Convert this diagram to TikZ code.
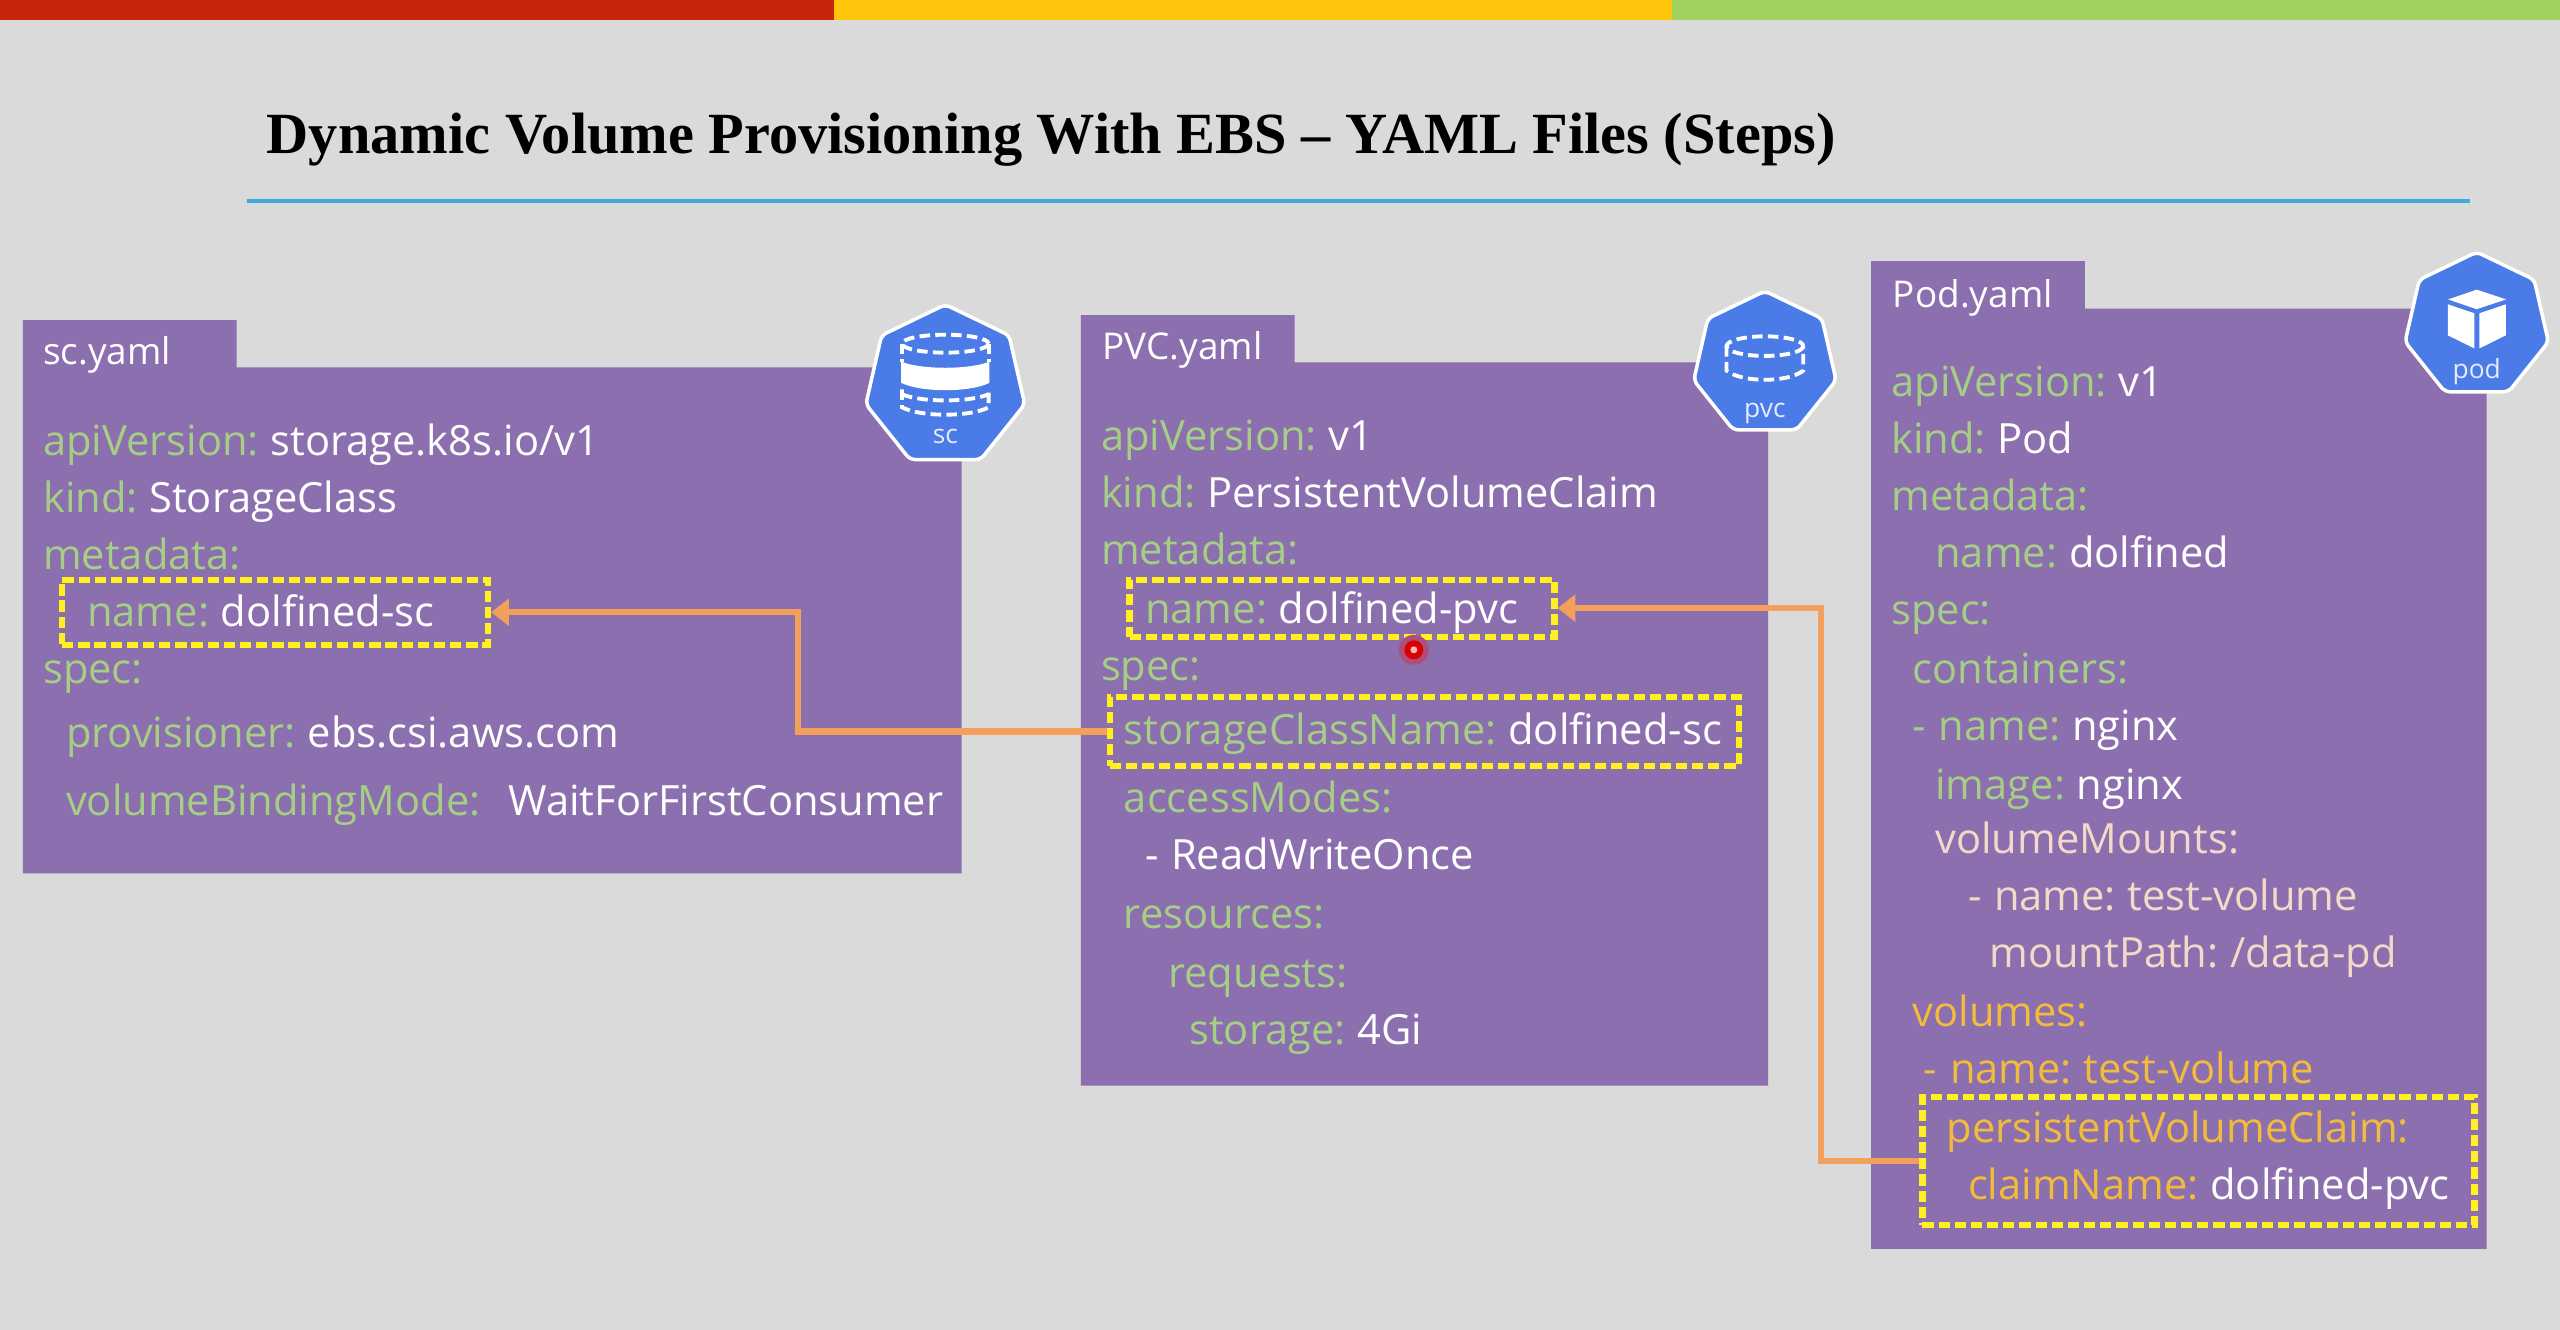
\documentclass[tikz,border=0pt]{standalone}
\usepackage{xcolor}
\usepackage{fontspec}
\setmainfont[WordSpace=0.75]{Open Sans}
\newfontfamily\titlefont{Liberation Serif}
\usetikzlibrary{
  arrows.meta,
  shapes.geometric,
  positioning,
  calc
}
\definecolor{bgGrey}{HTML}{DADADA}
\definecolor{panelPurple}{HTML}{8B6FAE}
\definecolor{keyGreen}{HTML}{A6CF85}
\definecolor{peachText}{HTML}{F5D9C8}
\definecolor{volOrange}{HTML}{F2BC3A}
\definecolor{boxYellow}{HTML}{FFF01E}
\definecolor{linkOrange}{HTML}{F2A05C}
\definecolor{iconBlue}{HTML}{4A7BE6}
\definecolor{ruleBlue}{HTML}{3FA9E0}
\newcommand{\yval}[1]{\textcolor{white}{#1}}
\newcommand{\ydash}{-\hspace{3.6pt}}
\tikzset{
  yaml/.style={anchor=base west, inner sep=0pt, yshift=-0.8pt, text=keyGreen, font=\fontsize{11.85}{14}\selectfont},
  tabname/.style={anchor=base west, inner sep=0pt, yshift=-0.5pt, text=white, font=\fontsize{10.5}{12}\selectfont},
  peach/.style={yaml, text=peachText},
  volume/.style={yaml, text=volOrange},
  markbox/.style={draw=boxYellow, line width=1.8pt, dash pattern=on 3.2pt off 1.4pt, inner sep=0pt},
  link/.style={draw=linkOrange, line width=1.8pt, -{Triangle[length=5pt,width=7.5pt]}},
  icon/.style={regular polygon, regular polygon sides=7, fill=iconBlue, draw=white, line width=1pt, rounded corners=1.5pt, inner sep=0pt},
  iconlabel/.style={inner sep=0pt, text=white!85!iconBlue, font=\fontsize{7.5}{8}\selectfont},
  dashline/.style={draw=white, line width=1.1pt, dash pattern=on 3pt off 1.5pt}
}
\begin{document}
\begin{tikzpicture}[x=0.16327mm, y=-0.16327mm]
  \useasboundingbox (0,0) rectangle (1568,814.6);
  \fill[bgGrey] (0,0) rectangle (1568,814.6);
  % Colour bars along the top
  \fill[fill={rgb,255:red,200;green,38;blue,12}] (0,0) rectangle (511,12);
  \fill[fill={rgb,255:red,255;green,197;blue,10}] (511,0) rectangle (1024,12);
  \fill[fill={rgb,255:red,163;green,209;blue,96}] (1024,0) rectangle (1568,12);
  % Title and rule
  \node[anchor=base west, inner sep=0pt, font=\titlefont\bfseries\fontsize{16.6}{20}\selectfont] (title) at (163,94) {Dynamic Volume Provisioning With EBS – YAML Files (Steps)};
  \draw[ruleBlue, line width=1.2pt] (151,123) -- (1513,123);
  % Panels, each with its tab
  \fill[panelPurple] (14,535) -- (14,196) -- (145,196) -- (145,225) -- (589,225) -- (589,535) -- cycle;
  \fill[panelPurple] (662,665) -- (662,193) -- (793,193) -- (793,222) -- (1083,222) -- (1083,665) -- cycle;
  \fill[panelPurple] (1146,765) -- (1146,160) -- (1277,160) -- (1277,189) -- (1523,189) -- (1523,765) -- cycle;

  % sc.yaml
  \node[tabname] (sctab) at (26,222) {sc.yaml};
  \node[yaml] (scapi) at (26,277) {apiVersion: \yval{storage.k8s.io/v1}};
  \node[yaml] (sckind) at (26,312) {kind: \yval{StorageClass}};
  \node[yaml] (scmeta) at (26,347) {metadata:};
  \node[yaml] (scnametext) at (53,382) {name: \yval{dolfined-sc}};
  \node[yaml] (scspec) at (26,417) {spec:};
  \node[yaml] (scprov) at (40,456) {provisioner: \yval{ebs.csi.aws.com}};
  \node[yaml] (scmode) at (40,498) {volumeBindingMode:};
  \node[yaml, text=white] (scmodeval) at (311,498) {WaitForFirstConsumer};

  % PVC.yaml
  \node[tabname] (pvctab) at (675,219) {PVC.yaml};
  \node[yaml] (pvcapi) at (674,274) {apiVersion: \yval{v1}};
  \node[yaml] (pvckind) at (674,309) {kind: \yval{PersistentVolumeClaim}};
  \node[yaml] (pvcmeta) at (674,344) {metadata:};
  \node[yaml] (pvcnametext) at (701,380) {name: \yval{dolfined-pvc}};
  \node[yaml] (pvcspec) at (674,415) {spec:};
  \node[yaml] (pvcclass) at (688,454) {storageClassName: \yval{dolfined-sc}};
  \node[yaml] (pvcmodes) at (688,496) {accessModes:};
  \node[yaml] (pvcrwo) at (701,531) {\yval{\ydash ReadWriteOnce}};
  \node[yaml] (pvcres) at (688,567) {resources:};
  \node[yaml] (pvcreq) at (715,603) {requests:};
  \node[yaml] (pvcsize) at (728,638) {storage: \yval{4Gi}};

  % Pod.yaml
  \node[tabname] (podtab) at (1159,187) {Pod.yaml};
  \node[yaml] (podapi) at (1158,241) {apiVersion: \yval{v1}};
  \node[yaml] (podkind) at (1158,276) {kind: \yval{Pod}};
  \node[yaml] (podmeta) at (1158,311) {metadata:};
  \node[yaml] (podname) at (1185,346) {name: \yval{dolfined}};
  \node[yaml] (podspec) at (1158,381) {spec:};
  \node[yaml] (podcont) at (1171,417) {containers:};
  \node[yaml] (podcname) at (1171,452) {\ydash name: \yval{nginx}};
  \node[yaml] (podimage) at (1185,488) {image: \yval{nginx}};
  \node[peach] (podmounts) at (1185,521) {volumeMounts:};
  \node[peach] (podmname) at (1205,556) {\ydash name: test-volume};
  \node[peach] (podmpath) at (1218,591) {mountPath: /data-pd};
  \node[volume] (podvols) at (1171,627) {volumes:};
  \node[volume] (podvname) at (1178,662) {\ydash name: test-volume};
  \node[volume] (podpvc) at (1192,698) {persistentVolumeClaim:};
  \node[volume] (podclaimtext) at (1205,733) {claimName: \yval{dolfined-pvc}};

  % Dashed marks around the linked lines
  \node[markbox, minimum width=42.6mm, minimum height=6.5mm] (scname) at (168.5,375) {};
  \node[markbox, minimum width=42.5mm, minimum height=5.7mm] (pvcname) at (822,372.5) {};
  \node[markbox, minimum width=62.9mm, minimum height=6.9mm] (pvcsc) at (872.5,448) {};
  \node[markbox, minimum width=55.2mm, minimum height=12.8mm] (podclaim) at (1346.5,711) {};

  % Links between the files
  \draw[link] (pvcsc.west) -- ++(-189,0) |- (scname.east);
  \draw[link] (podclaim.west) -- ++(-60,0) |- (pvcname.east);

  % sc icon
  \node[icon, minimum size=16.3mm] (scicon) at (579,236.5) {};
  \node[iconlabel] (sclabel) at ($(scicon.center)+(0,31)$) {sc};
  \begin{scope}[shift={(scicon.center)}]
    \draw[dashline] (0,-26) ellipse (26.5 and 5.5);
    \draw[dashline] (-26.5,-26) -- (-26.5,-15);
    \draw[dashline] (26.5,-26) -- (26.5,-15);
    \fill[white] (-27,-15) .. controls (-15,-10) and (15,-10) .. (27,-15) -- (27,-2) .. controls (15,4) and (-15,4) .. (-27,-2) -- cycle;
    \draw[dashline] (-26.5,5) .. controls (-15,10) and (15,10) .. (26.5,5);
    \draw[dashline] (-26.5,2) -- (-26.5,13) .. controls (-15,19) and (15,19) .. (26.5,13) -- (26.5,2);
  \end{scope}

  % pvc icon
  \node[icon, minimum size=14.6mm] (pvcicon) at (1081,223) {};
  \node[iconlabel] (pvclabel) at ($(pvcicon.center)+(0,30)$) {pvc};
  \begin{scope}[shift={(pvcicon.center)}]
    \draw[dashline] (0,-11) ellipse (23.5 and 6);
    \draw[dashline] (-23.5,-11) -- (-23.5,4) .. controls (-14,11.5) and (14,11.5) .. (23.5,4) -- (23.5,-11);
  \end{scope}

  % pod icon
  \node[icon, minimum size=14.7mm] (podicon) at (1517,199.4) {};
  \node[iconlabel] (podlabel) at ($(podicon.center)+(0,28.5)$) {pod};
  \begin{scope}[shift={(podicon.center)}]
    \fill[white] (0,-22) -- (18,-16) -- (0,-10) -- (-17.5,-16) -- cycle;
    \fill[white] (-17.7,-13) -- (-1.4,-7.5) -- (-1.4,14) -- (-17.7,6) -- cycle;
    \fill[white] (1.6,-7.5) -- (17.8,-13) -- (17.8,6) -- (1.6,14) -- cycle;
  \end{scope}

  % Pointer dot
  \node[circle, fill=red!30!panelPurple, minimum size=3mm, inner sep=0pt] (pointerglow) at (866,398) {};
  \node[circle, fill=red!85!black, minimum size=1.9mm, inner sep=0pt] (pointer) at (pointerglow.center) {};
  \node[circle, fill=white!70!red, minimum size=0.7mm, inner sep=0pt] (pointercore) at (pointer.center) {};
\end{tikzpicture}
\end{document}
